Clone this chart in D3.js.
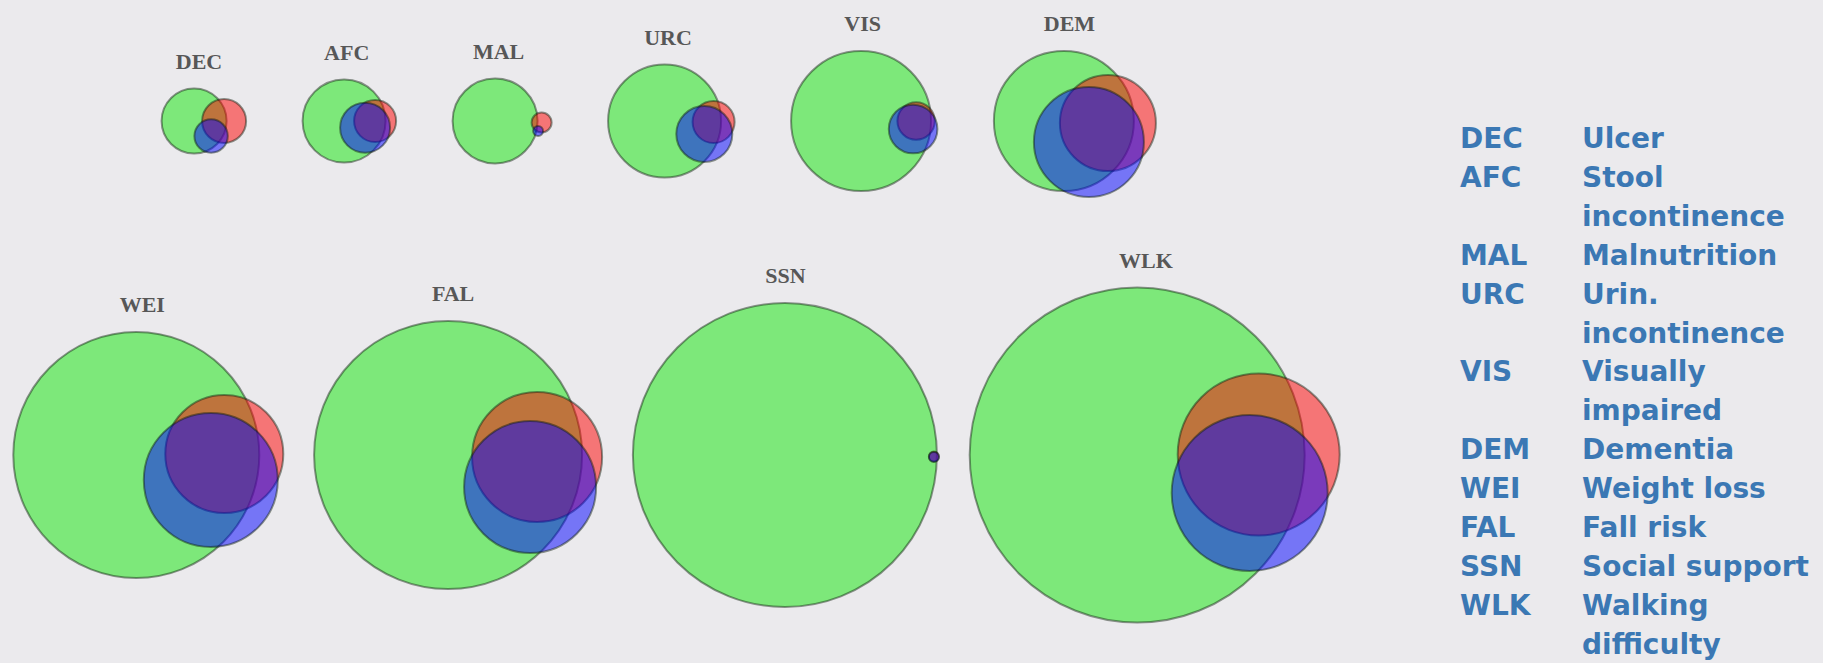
<!DOCTYPE html>
<html>
<head>
<meta charset="utf-8">
<script src="https://cdn.jsdelivr.net/npm/d3@7/dist/d3.min.js"></script>
<style>
  html, body { margin: 0; padding: 0; background: #ebeaed; }
  svg { display: block; }
</style>
</head>
<body>
<svg id="chart" width="1823" height="663"></svg>
<script>
// Euler diagrams: each condition (green) with two overlapping sets (red, blue).
const categories   = ["DEC", "AFC", "MAL", "URC", "VIS", "DEM", "WEI", "FAL", "SSN", "WLK"];
const descriptions = [["Ulcer"], ["Stool", "incontinence"], ["Malnutrition"], ["Urin.", "incontinence"],
                      ["Visually", "impaired"], ["Dementia"], ["Weight loss"], ["Fall risk"],
                      ["Social support"], ["Walking", "difficulty"]];
const rowOf        = [0, 0, 0, 0, 0, 0, 1, 1, 1, 1];

// set sizes (circle radii) and overlap offsets relative to the main set centre
const greenRadius  = [32.5, 41.5, 42.5, 56.5, 70, 70, 123, 134, 152, 167.5];
const redRadius    = [22, 21, 10, 21, 18.7, 48, 59, 65, 5, 81];
const redOffsetX   = [30, 31, 46.5, 49, 55, 44, 88, 89, 149, 121.5];
const redOffsetY   = [0, 0, 1.5, 1, 0, 2, -1, 2, 1.5, -0.5];
const blueRadius   = [16.7, 25, 5, 28, 24.3, 55, 67, 66, 5, 78];
const blueOffsetX  = [17, 21, 43, 39.7, 52, 25, 74.5, 82, 149, 112.5];
const blueOffsetY  = [15, 6.7, 10, 13, 8, 21, 25, 32, 2, 38];

const svg = d3.select("#chart");

// unit -> pixel scale for set sizes
const size = d3.scaleLinear().domain([0, 100]).range([0, 100]);

// row layout: start x, gap between diagrams, vertical centre
const rowsLayout = [
  { start: 161.6, gap: 56.5, cy: 121 },
  { start: 13.3,  gap: 30.8, cy: 455 }
];

const diagrams = categories.map((c, i) => {
  const g = size(greenRadius[i]);
  const red = { dx: size(redOffsetX[i]), dy: size(redOffsetY[i]), r: size(redRadius[i]) };
  const blue = { dx: size(blueOffsetX[i]), dy: size(blueOffsetY[i]), r: size(blueRadius[i]) };
  const left = Math.min(-g, red.dx - red.r, blue.dx - blue.r);
  const right = Math.max(g, red.dx + red.r, blue.dx + blue.r);
  return { name: c, row: rowOf[i], g, red, blue, left, right };
});

// pack diagrams left to right within each row
rowsLayout.forEach((rl, ri) => {
  let x = rl.start;
  diagrams.filter(d => d.row === ri).forEach(d => {
    d.cx = x - d.left;
    d.cy = rl.cy;
    x += (d.right - d.left) + rl.gap;
  });
});

const strokeCol = "#0a1a0a", strokeOp = 0.45, strokeW = 2;

const groups = svg.selectAll("g.venn").data(diagrams).join("g")
  .attr("class", "venn")
  .attr("transform", d => `translate(${d.cx},${d.cy})`);

groups.append("circle")
  .attr("r", d => d.g)
  .attr("fill", "#7de87a")
  .attr("stroke", strokeCol).attr("stroke-opacity", strokeOp).attr("stroke-width", strokeW);

groups.append("circle")
  .attr("cx", d => d.red.dx).attr("cy", d => d.red.dy).attr("r", d => d.red.r)
  .attr("fill", "#ff0000").attr("fill-opacity", 0.5)
  .attr("stroke", strokeCol).attr("stroke-opacity", strokeOp).attr("stroke-width", strokeW);

groups.append("circle")
  .attr("cx", d => d.blue.dx).attr("cy", d => d.blue.dy).attr("r", d => d.blue.r)
  .attr("fill", "#0000ff").attr("fill-opacity", 0.5)
  .attr("stroke", strokeCol).attr("stroke-opacity", strokeOp).attr("stroke-width", strokeW);

// diagram titles, centred between the main set and the whole diagram
groups.append("text")
  .attr("x", d => ((d.left + d.right) / 2) / 2)
  .attr("y", d => -d.g - 20)
  .attr("text-anchor", "middle")
  .attr("font-family", "'Liberation Serif', 'Times New Roman', serif")
  .attr("font-weight", "bold")
  .attr("font-size", 22)
  .attr("fill", "#575757")
  .text(d => d.name);

// legend: code and description columns
const legendLines = [];
categories.forEach((c, i) => {
  descriptions[i].forEach((line, j) => legendLines.push({ code: j === 0 ? c : "", line }));
});
const legendY = d3.scaleLinear().domain([0, 1]).range([148, 148 + 38.9]);
const legend = svg.append("g")
  .attr("font-family", "'DejaVu Sans', Verdana, sans-serif")
  .attr("font-weight", "bold")
  .attr("font-size", 28)
  .attr("fill", "#3b78b4");
legend.selectAll("text.code").data(legendLines).join("text")
  .attr("class", "code")
  .attr("x", 1460).attr("y", (d, i) => legendY(i))
  .text(d => d.code);
legend.selectAll("text.desc").data(legendLines).join("text")
  .attr("class", "desc")
  .attr("x", 1582).attr("y", (d, i) => legendY(i))
  .text(d => d.line);
</script>
</body>
</html>
